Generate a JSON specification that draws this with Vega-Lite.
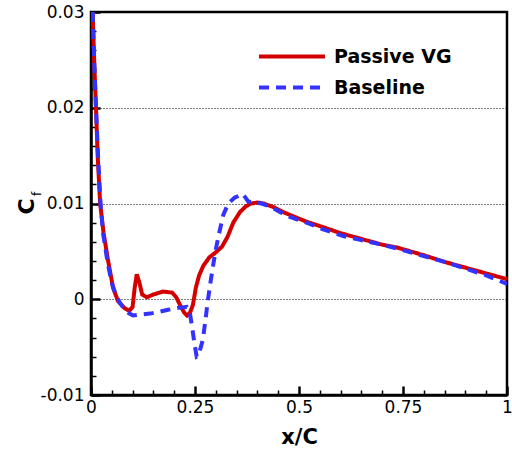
{
  "$schema": "https://vega.github.io/schema/vega-lite/v6.json",
  "width": 416,
  "height": 383,
  "autosize": "none",
  "padding": {"left": 91, "top": 12, "right": 5, "bottom": 56},
  "config": {
    "font": "DejaVu Sans",
    "view": {"stroke": "black", "strokeWidth": 2.5},
    "axis": {"domainColor": "black", "domainWidth": 2.5, "tickColor": "black", "labelColor": "black", "titleColor": "black", "labelFont": "DejaVu Sans", "labelFontSize": 17, "titleFont": "DejaVu Sans", "titleFontWeight": "bold", "labelFlush": false, "labelOverlap": false}
  },
  "datasets": {
    "cf": [
      {"s": "Passive VG", "x": 0.004, "y": 0.030},
      {"s": "Passive VG", "x": 0.008, "y": 0.0245},
      {"s": "Passive VG", "x": 0.012, "y": 0.020},
      {"s": "Passive VG", "x": 0.016, "y": 0.015},
      {"s": "Passive VG", "x": 0.022, "y": 0.010},
      {"s": "Passive VG", "x": 0.030, "y": 0.0070},
      {"s": "Passive VG", "x": 0.040, "y": 0.0043},
      {"s": "Passive VG", "x": 0.053, "y": 0.0012},
      {"s": "Passive VG", "x": 0.065, "y": -0.0002},
      {"s": "Passive VG", "x": 0.080, "y": -0.0009},
      {"s": "Passive VG", "x": 0.092, "y": -0.0012},
      {"s": "Passive VG", "x": 0.100, "y": -0.0008},
      {"s": "Passive VG", "x": 0.105, "y": 0.0012},
      {"s": "Passive VG", "x": 0.110, "y": 0.0026},
      {"s": "Passive VG", "x": 0.116, "y": 0.0018},
      {"s": "Passive VG", "x": 0.123, "y": 0.0005},
      {"s": "Passive VG", "x": 0.134, "y": 0.0002},
      {"s": "Passive VG", "x": 0.150, "y": 0.0005},
      {"s": "Passive VG", "x": 0.173, "y": 0.0008},
      {"s": "Passive VG", "x": 0.195, "y": 0.0007},
      {"s": "Passive VG", "x": 0.205, "y": 0.0002},
      {"s": "Passive VG", "x": 0.214, "y": -0.0006},
      {"s": "Passive VG", "x": 0.224, "y": -0.0014},
      {"s": "Passive VG", "x": 0.231, "y": -0.0017},
      {"s": "Passive VG", "x": 0.238, "y": -0.0014},
      {"s": "Passive VG", "x": 0.245, "y": -0.0006},
      {"s": "Passive VG", "x": 0.252, "y": 0.0012},
      {"s": "Passive VG", "x": 0.260, "y": 0.0025},
      {"s": "Passive VG", "x": 0.270, "y": 0.0035},
      {"s": "Passive VG", "x": 0.285, "y": 0.0044},
      {"s": "Passive VG", "x": 0.300, "y": 0.0049},
      {"s": "Passive VG", "x": 0.315, "y": 0.0055},
      {"s": "Passive VG", "x": 0.328, "y": 0.0065},
      {"s": "Passive VG", "x": 0.342, "y": 0.0080},
      {"s": "Passive VG", "x": 0.358, "y": 0.0091},
      {"s": "Passive VG", "x": 0.372, "y": 0.0097},
      {"s": "Passive VG", "x": 0.385, "y": 0.0100},
      {"s": "Passive VG", "x": 0.400, "y": 0.0101},
      {"s": "Passive VG", "x": 0.415, "y": 0.0100},
      {"s": "Passive VG", "x": 0.440, "y": 0.0096},
      {"s": "Passive VG", "x": 0.462, "y": 0.0091},
      {"s": "Passive VG", "x": 0.490, "y": 0.0086},
      {"s": "Passive VG", "x": 0.518, "y": 0.0081},
      {"s": "Passive VG", "x": 0.560, "y": 0.0075},
      {"s": "Passive VG", "x": 0.600, "y": 0.0069},
      {"s": "Passive VG", "x": 0.650, "y": 0.0063},
      {"s": "Passive VG", "x": 0.700, "y": 0.0057},
      {"s": "Passive VG", "x": 0.736, "y": 0.0054},
      {"s": "Passive VG", "x": 0.800, "y": 0.0046},
      {"s": "Passive VG", "x": 0.850, "y": 0.0039},
      {"s": "Passive VG", "x": 0.900, "y": 0.0033},
      {"s": "Passive VG", "x": 0.950, "y": 0.0027},
      {"s": "Passive VG", "x": 1.000, "y": 0.0021},
      {"s": "Baseline", "x": 0.004, "y": 0.030},
      {"s": "Baseline", "x": 0.008, "y": 0.0245},
      {"s": "Baseline", "x": 0.012, "y": 0.020},
      {"s": "Baseline", "x": 0.017, "y": 0.015},
      {"s": "Baseline", "x": 0.023, "y": 0.010},
      {"s": "Baseline", "x": 0.029, "y": 0.0069},
      {"s": "Baseline", "x": 0.040, "y": 0.0038},
      {"s": "Baseline", "x": 0.050, "y": 0.0017},
      {"s": "Baseline", "x": 0.060, "y": 0.0004},
      {"s": "Baseline", "x": 0.070, "y": -0.0004},
      {"s": "Baseline", "x": 0.085, "y": -0.0013},
      {"s": "Baseline", "x": 0.101, "y": -0.0017},
      {"s": "Baseline", "x": 0.120, "y": -0.0016},
      {"s": "Baseline", "x": 0.142, "y": -0.0015},
      {"s": "Baseline", "x": 0.165, "y": -0.0013},
      {"s": "Baseline", "x": 0.185, "y": -0.0011},
      {"s": "Baseline", "x": 0.210, "y": -0.0009},
      {"s": "Baseline", "x": 0.230, "y": -0.0008},
      {"s": "Baseline", "x": 0.238, "y": -0.0015},
      {"s": "Baseline", "x": 0.243, "y": -0.0029},
      {"s": "Baseline", "x": 0.249, "y": -0.0047},
      {"s": "Baseline", "x": 0.254, "y": -0.0060},
      {"s": "Baseline", "x": 0.258, "y": -0.0059},
      {"s": "Baseline", "x": 0.264, "y": -0.0050},
      {"s": "Baseline", "x": 0.269, "y": -0.0042},
      {"s": "Baseline", "x": 0.275, "y": -0.0022},
      {"s": "Baseline", "x": 0.281, "y": -0.0001},
      {"s": "Baseline", "x": 0.287, "y": 0.0017},
      {"s": "Baseline", "x": 0.293, "y": 0.0034},
      {"s": "Baseline", "x": 0.300, "y": 0.0052},
      {"s": "Baseline", "x": 0.308, "y": 0.0069},
      {"s": "Baseline", "x": 0.318, "y": 0.0088},
      {"s": "Baseline", "x": 0.330, "y": 0.0100},
      {"s": "Baseline", "x": 0.345, "y": 0.0106},
      {"s": "Baseline", "x": 0.365, "y": 0.0110},
      {"s": "Baseline", "x": 0.378, "y": 0.0102},
      {"s": "Baseline", "x": 0.395, "y": 0.0101},
      {"s": "Baseline", "x": 0.410, "y": 0.0100},
      {"s": "Baseline", "x": 0.430, "y": 0.0097},
      {"s": "Baseline", "x": 0.455, "y": 0.0091},
      {"s": "Baseline", "x": 0.478, "y": 0.0086},
      {"s": "Baseline", "x": 0.518, "y": 0.0080},
      {"s": "Baseline", "x": 0.558, "y": 0.0073},
      {"s": "Baseline", "x": 0.606, "y": 0.0066},
      {"s": "Baseline", "x": 0.647, "y": 0.0062},
      {"s": "Baseline", "x": 0.700, "y": 0.0057},
      {"s": "Baseline", "x": 0.735, "y": 0.0053},
      {"s": "Baseline", "x": 0.800, "y": 0.0045},
      {"s": "Baseline", "x": 0.850, "y": 0.0039},
      {"s": "Baseline", "x": 0.900, "y": 0.0032},
      {"s": "Baseline", "x": 0.950, "y": 0.0025},
      {"s": "Baseline", "x": 1.000, "y": 0.0016}
    ],
    "sub": [{"t": "f", "x": -0.13, "y": 0.0110}]
  },
  "encoding": {
    "x": {
      "field": "x", "type": "quantitative",
      "scale": {"domain": [0, 1], "nice": false, "zero": false},
      "axis": {
        "values": [0, 0.05, 0.1, 0.15, 0.2, 0.25, 0.3, 0.35, 0.4, 0.45, 0.5, 0.55, 0.6, 0.65, 0.7, 0.75, 0.8, 0.85, 0.9, 0.95, 1],
        "labelExpr": "abs(datum.value*4 - round(datum.value*4)) < 1e-6 ? toString(datum.value) : ''",
        "tickSize": {"condition": {"test": "abs(datum.value*4 - round(datum.value*4)) < 1e-6", "value": -9}, "value": -5},
        "tickWidth": {"condition": {"test": "abs(datum.value*4 - round(datum.value*4)) < 1e-6", "value": 2.5}, "value": 1.5},
        "labelPadding": 13,
        "grid": false,
        "title": "x/C",
        "titleFontSize": 21,
        "titleY": 48,
        "titleBaseline": "alphabetic"
      }
    },
    "y": {
      "field": "y", "type": "quantitative",
      "scale": {"domain": [-0.01, 0.03], "nice": false, "zero": false},
      "axis": {
        "values": [-0.01, -0.008, -0.006, -0.004, -0.002, 0, 0.002, 0.004, 0.006, 0.008, 0.01, 0.012, 0.014, 0.016, 0.018, 0.02, 0.022, 0.024, 0.026, 0.028, 0.03],
        "labelExpr": "abs(datum.value*100 - round(datum.value*100)) < 1e-6 ? toString(datum.value) : ''",
        "tickSize": {"condition": {"test": "abs(datum.value*100 - round(datum.value*100)) < 1e-6", "value": -9}, "value": -5},
        "tickWidth": {"condition": {"test": "abs(datum.value*100 - round(datum.value*100)) < 1e-6", "value": 2.5}, "value": 1.5},
        "labelPadding": 16,
        "grid": true,
        "gridColor": "black",
        "gridWidth": 1,
        "gridDash": [1, 2],
        "gridOpacity": {"condition": {"test": "abs(datum.value*100 - round(datum.value*100)) < 1e-6 && datum.value > -0.005 && datum.value < 0.025", "value": 1}, "value": 0},
        "title": "C",
        "titleFontSize": 22,
        "titleAngle": -90,
        "titleX": -65,
        "titleY": 194,
        "titleAlign": "center",
        "titleBaseline": "middle"
      }
    }
  },
  "layer": [
    {
      "data": {"name": "cf"},
      "transform": [{"filter": "datum.s === 'Passive VG'"}],
      "mark": {"type": "line", "strokeWidth": 4, "clip": true},
      "encoding": {
        "color": {"field": "s", "type": "nominal", "scale": {"domain": ["Passive VG", "Baseline"], "range": ["#d40000", "#3333ff"]},
          "legend": {"title": null, "orient": "none", "legendX": 182.5, "legendY": 26, "symbolType": "M-2,0H2", "symbolSize": 1089, "symbolStrokeWidth": 4, "labelFontSize": 19, "labelFontWeight": "bold", "labelFont": "DejaVu Sans", "labelColor": "black", "labelOffset": 23.5, "padding": 0, "rowPadding": 2}},
        "strokeDash": {"field": "s", "type": "nominal", "scale": {"domain": ["Passive VG", "Baseline"], "range": [[1, 0], [10, 7]]}, "legend": null}
      }
    },
    {
      "data": {"name": "cf"},
      "transform": [{"filter": "datum.s === 'Baseline'"}],
      "mark": {"type": "line", "strokeWidth": 4, "clip": true},
      "encoding": {
        "color": {"field": "s", "type": "nominal"},
        "strokeDash": {"field": "s", "type": "nominal"}
      }
    },
    {
      "data": {"name": "sub"},
      "mark": {"type": "text", "angle": 270, "fontSize": 12, "font": "DejaVu Sans", "color": "black", "align": "center", "baseline": "middle"},
      "encoding": {
        "text": {"field": "t"}
      }
    }
  ]
}
